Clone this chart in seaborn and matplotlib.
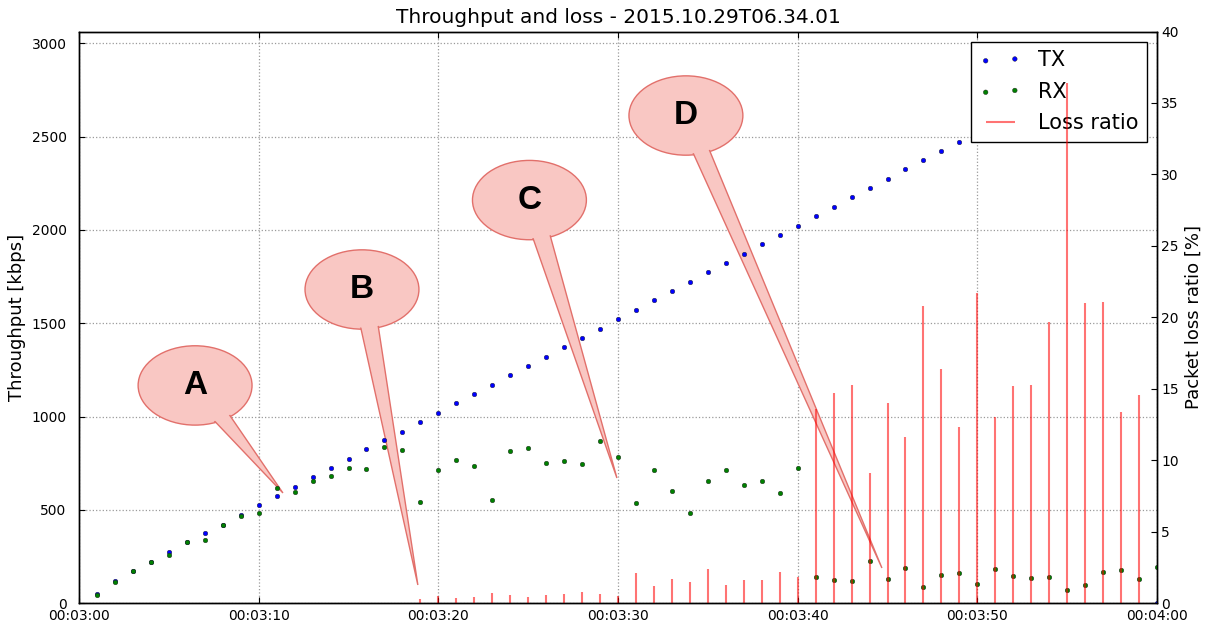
import numpy as np
import pandas as pd
import matplotlib
matplotlib.use('Agg')
import matplotlib.pyplot as plt
import seaborn as sns
from matplotlib.patches import Ellipse, Polygon
from matplotlib.ticker import FuncFormatter, MultipleLocator

# time axis is seconds since 00:00:00, one sample per second from 00:03:01
tx_time = list(range(181, 231)) + [240]
tx_kbps = [51, 122, 173, 223, 273, 326, 374, 422, 472, 525,
           573, 623, 675, 724, 775, 824, 873, 919, 973, 1021,
           1071, 1123, 1169, 1223, 1271, 1321, 1373, 1423, 1471, 1523,
           1573, 1625, 1673, 1723, 1773, 1823, 1873, 1924, 1973, 2022,
           2073, 2124, 2175, 2223, 2273, 2326, 2374, 2421, 2473, 2525,
           0]

rx_time = list(range(181, 241))
rx_kbps = [45, 116, 173, 220, 260, 326, 339, 422, 469, 481,
           620, 595, 655, 682, 724, 718, 839, 823, 543, 714,
           766, 735, 552, 814, 830, 753, 762, 748, 869, 785,
           536, 712, 599, 481, 654, 716, 631, 654, 591, 727,
           143, 125, 119, 228, 132, 187, 87, 153, 160, 105,
           182, 148, 136, 139, 71, 96, 166, 177, 132, 193]

loss_time = list(range(181, 241))
loss_pct = [0, 0, 0, 0, 0, 0, 0, 0, 0, 0,
            0, 0, 0, 0, 0, 0.05, 0, 0, 0.28, 0.53,
            0.35, 0.46, 0.72, 0.6, 0.46, 0.58, 0.65, 0.77, 0.63, 0.53,
            2.14, 1.19, 1.68, 1.51, 2.4, 1.26, 1.61, 1.61, 2.19, 1.86,
            13.6, 14.7, 15.3, 9.1, 14.0, 11.6, 20.8, 16.4, 12.3, 21.7,
            13.0, 15.2, 15.3, 19.65, 36.4, 21.0, 21.1, 13.4, 14.6, 0]

# callouts: letter, bubble centre (s, kbps), tip (s, kbps), tail base angles (deg)
callout_letters = ['A', 'B', 'C', 'D']
callout_centres = [(186.46, 1167), (195.75, 1681), (205.07, 2160), (213.78, 2613)]
callout_tips = [(191.35, 591), (198.86, 98), (209.94, 671), (224.69, 189)]
callout_base = [(-70, -50), (-92, -72), (-87, -67), (-83, -64)]
bubble_w = 6.34
bubble_h = 425

sns.set_style("white", {'text.color': 'black', 'axes.labelcolor': 'black',
                        'xtick.color': 'black', 'ytick.color': 'black'})
plt.rcParams['font.family'] = ['DejaVu Sans']

fig = plt.figure(figsize=(12.1, 6.24), dpi=100)
ax1 = fig.add_axes([0.0653, 0.0332, 0.8909, 0.9163])
ax2 = ax1.twinx()

sns.scatterplot(x=tx_time, y=tx_kbps, ax=ax1, color='blue', s=11,
                edgecolor='#202020', linewidth=0.3, label='TX', zorder=4)
sns.scatterplot(x=rx_time, y=rx_kbps, ax=ax1, color='green', s=11,
                edgecolor='#202020', linewidth=0.3, label='RX', zorder=4)
ax2.vlines(loss_time, 0, loss_pct, colors='red', alpha=0.55, lw=1.5,
           label='Loss ratio')

face = '#f9c7c3'
edge = '#e2706b'
for letter, (cx, cy), tip, (a1, a2) in zip(callout_letters, callout_centres,
                                           callout_tips, callout_base):
    b1 = (cx + 0.45 * bubble_w * np.cos(np.radians(a1)),
          cy + 0.45 * bubble_h * np.sin(np.radians(a1)))
    b2 = (cx + 0.45 * bubble_w * np.cos(np.radians(a2)),
          cy + 0.45 * bubble_h * np.sin(np.radians(a2)))
    ax1.add_patch(Ellipse((cx, cy), bubble_w, bubble_h, fc=face, ec=edge,
                          lw=1, zorder=2.5))
    ax1.add_patch(Polygon([b1, tip, b2], closed=True, fc=face, ec=edge,
                          lw=1, zorder=2.6))
    ax1.add_patch(Ellipse((cx, cy), bubble_w * 0.96, bubble_h * 0.96,
                          fc=face, ec='none', zorder=2.7))
    ax1.text(cx, cy, letter, ha='center', va='center', fontsize=24,
             fontweight='bold', family='Liberation Sans', color='black',
             zorder=2.8)

def hms(v, pos):
    v = int(round(v))
    return '%02d:%02d:%02d' % (v // 3600, (v % 3600) // 60, v % 60)

ax1.set_xlim(180, 240)
ax1.set_ylim(0, 3063)
ax2.set_ylim(0, 40)
ax1.xaxis.set_major_locator(MultipleLocator(10))
ax1.xaxis.set_major_formatter(FuncFormatter(hms))
ax1.yaxis.set_major_locator(MultipleLocator(500))
ax2.yaxis.set_major_locator(MultipleLocator(5))

ax1.grid(True, ls=':', color='#9a9a9a', lw=0.9)
ax1.set_axisbelow(True)
ax1.tick_params(axis='x', direction='in', bottom=True, top=True, length=4,
                width=0.8, labelsize=10, pad=4)
ax1.tick_params(axis='y', direction='in', left=True, right=False, length=4,
                width=0.8, labelsize=10, pad=9)
ax2.tick_params(axis='y', direction='in', right=True, left=False, length=4,
                width=0.8, labelsize=10, pad=3)
for ax in (ax1, ax2):
    for sp in ax.spines.values():
        sp.set_color('black')
        sp.set_linewidth(1)

ax1.set_ylabel('Throughput [kbps]', fontsize=13)
ax2.set_ylabel('Packet loss ratio [%]', fontsize=13)
ax1.set_title('Throughput and loss - 2015.10.29T06.34.01', fontsize=14.5, pad=6)

h1, l1 = ax1.get_legend_handles_labels()
h2, l2 = ax2.get_legend_handles_labels()
leg = ax1.legend(h1 + h2, l1 + l2, loc='upper right', scatterpoints=2,
                 fontsize=15, frameon=True, fancybox=False, framealpha=1,
                 edgecolor='black', borderaxespad=0.5, labelspacing=0.55)
leg.get_frame().set_linewidth(1)

plt.savefig('out.png', dpi=100)
